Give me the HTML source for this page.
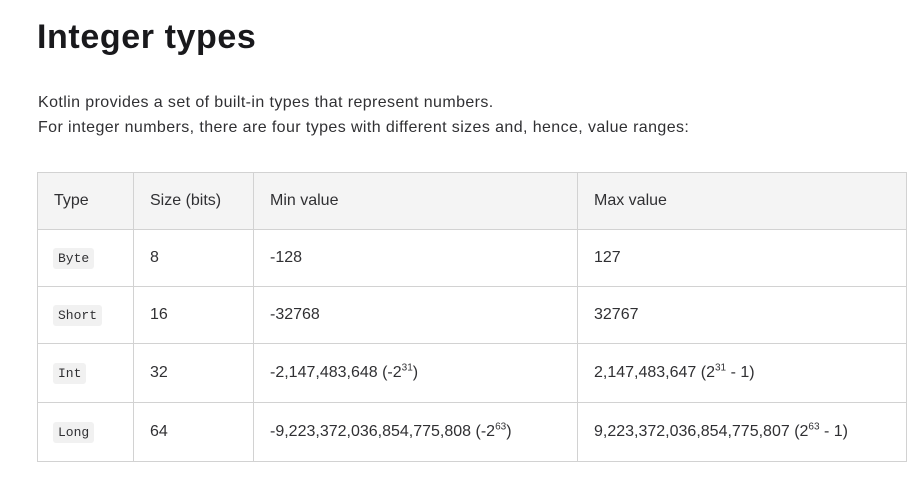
<!DOCTYPE html>
<html><head><meta charset="utf-8"><style>
body{margin:0;width:918px;height:479px;background:#fff;font-family:"Liberation Sans",sans-serif;color:#27282c;position:relative;overflow:hidden}
h1{position:absolute;left:37px;top:18px;margin:0;font-size:34px;font-weight:bold;color:#19191c;letter-spacing:0.6px}
p{position:absolute;left:38px;margin:0;font-size:16px;color:#303033;letter-spacing:0.4px}
table{position:absolute;left:37px;top:172px;border-collapse:collapse;font-size:16px;color:#303033}
td,th{border:1px solid #d2d2d2;text-align:left;font-weight:normal;padding:0 0 0 16px;vertical-align:middle}
th{background:#f4f4f4;height:56px}
td{height:56px}
tr.tall td{height:58px}
code{font-family:"Liberation Mono",monospace;font-size:13px;background:#f1f1f1;padding:3px 5px;border-radius:3px;margin-left:-1px}
sup{font-size:10px;line-height:0}
</style></head><body>
<h1>Integer types</h1>
<p style="top:94px">Kotlin provides a set of built-in types that represent numbers.</p>
<p style="top:119px">For integer numbers, there are four types with different sizes and, hence, value ranges:</p>
<table>
<colgroup><col style="width:96px"><col style="width:120px"><col style="width:324px"><col style="width:329px"></colgroup>
<tr><th>Type</th><th>Size (bits)</th><th>Min value</th><th>Max value</th></tr>
<tr><td><code>Byte</code></td><td>8</td><td>-128</td><td>127</td></tr>
<tr><td><code>Short</code></td><td>16</td><td>-32768</td><td>32767</td></tr>
<tr class="tall"><td><code>Int</code></td><td>32</td><td>-2,147,483,648 (-2<sup>31</sup>)</td><td>2,147,483,647 (2<sup>31</sup> - 1)</td></tr>
<tr class="tall"><td><code>Long</code></td><td>64</td><td>-9,223,372,036,854,775,808 (-2<sup>63</sup>)</td><td>9,223,372,036,854,775,807 (2<sup>63</sup> - 1)</td></tr>
</table>
</body></html>
